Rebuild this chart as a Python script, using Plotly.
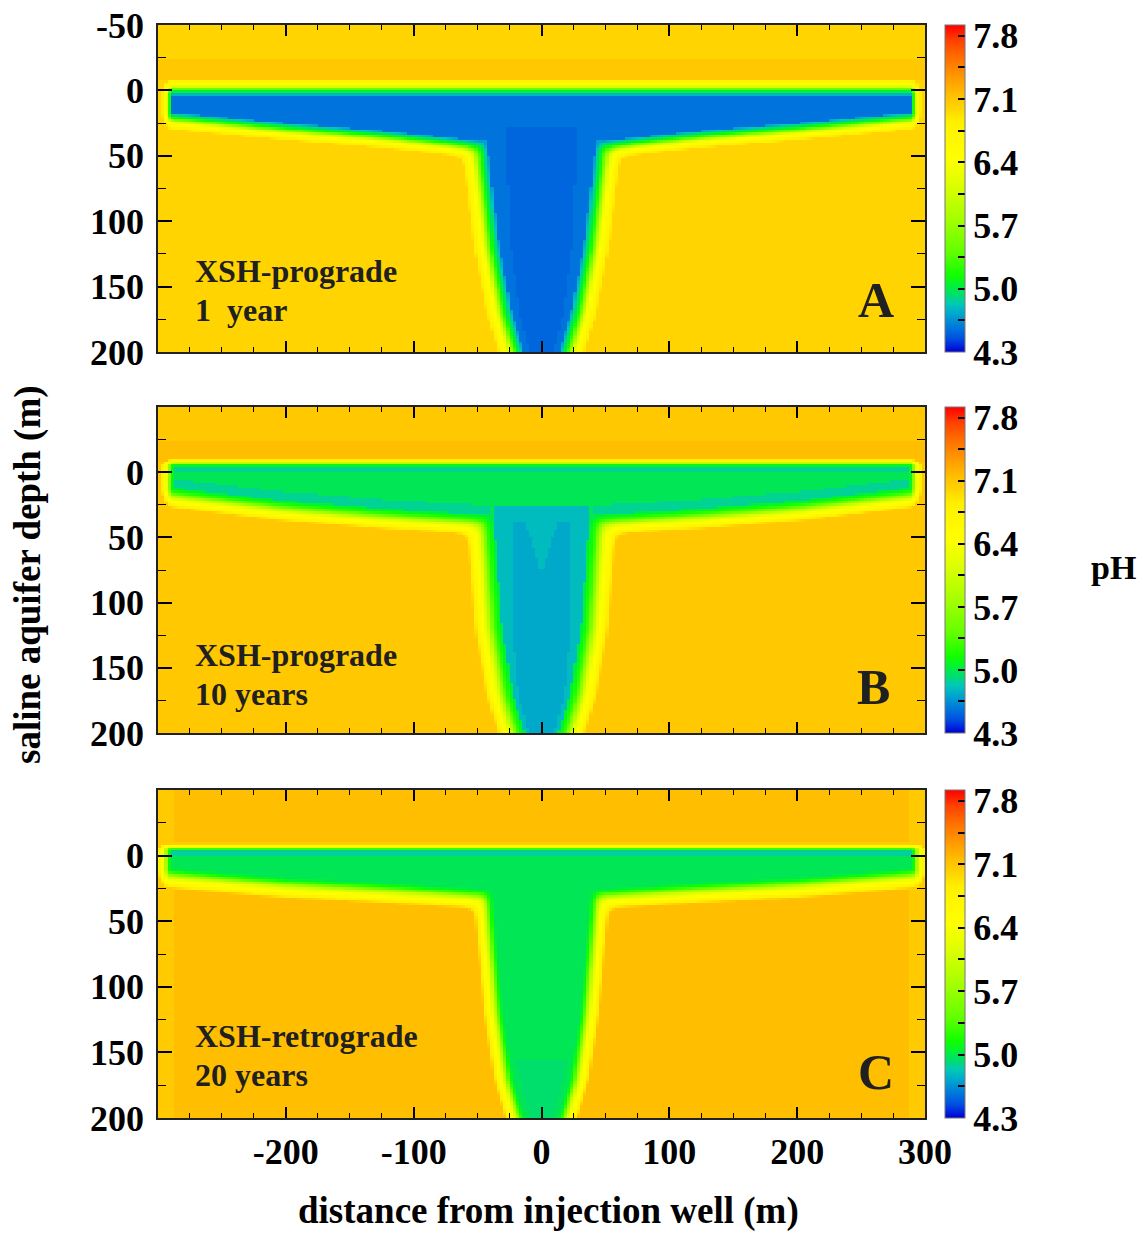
import numpy as np
import plotly.graph_objects as go

# ---------------- data ----------------
# model grid (cell centres, m)
X_CELLS = np.arange(-298.75, 300.0, 2.5)
D_CELLS = np.arange(-49.0, 200.0, 2.0)

X_TICKS = [-200, -100, 0, 100, 200, 300]
X_TICKTEXT = ["-200", "-100", "0", "100", "200", "300"]
Y_TICKS_A = [-50, 0, 50, 100, 150, 200]
Y_TICKTEXT_A = ["-50", "0", "50", "100", "150", "200"]
Y_TICKS_BC = [0, 50, 100, 150, 200]
Y_TICKTEXT_BC = ["0", "50", "100", "150", "200"]

PH_MIN, PH_MAX = 4.3, 7.92
PH_TICKS = [4.3, 4.65, 5.0, 5.35, 5.7, 6.05, 6.4, 6.75, 7.1, 7.45, 7.8]
PH_TICKTEXT = ["4.3", "", "5.0", "", "5.7", "", "6.4", "", "7.1", "", "7.8"]

# colour bar stops (pH, colour)
CBAR_PH = [4.30, 4.36, 4.45, 4.55, 4.70, 4.83, 4.93, 5.02, 5.15, 5.40,
           5.75, 6.15, 6.45, 6.85, 7.00, 7.15, 7.35, 7.55, 7.75, 7.92]
CBAR_COL = ["#0000c8", "#0020e0", "#0050e0", "#0070dd", "#00a0d0", "#00c8b8",
            "#00dd70", "#00ee40", "#10ff00", "#60ff00", "#a0ff00", "#ddff00",
            "#ffff00", "#fff000", "#ffd400", "#ffbe00", "#ff9800", "#ff7000",
            "#ff4000", "#ff0000"]

# plume geometry nodes
ARM_X = [0, 56, 124, 202, 289]          # |x| nodes for arm bottom
STEM_D = [30, 56, 120, 171, 200]        # depth nodes for stem half width

# panel A : XSH-prograde, 1 year
A_TOP, A_TIP = 3.5, 289
A_ARM_BOT = [40, 38, 31, 25, 17]
A_STEM_HW = [42, 41, 33, 23, 14]
A_CORE_HW = [27, 27, 24, 17, 10]
A_EDGE_D = [0, 1.2, 2.5, 4.0, 5.5, 7.0, 9.0, 11.0, 13.0]
A_EDGE_PH = [4.70, 4.85, 5.0, 5.2, 5.6, 6.1, 6.5, 6.7, 6.95]
A_PH_ARM, A_PH_CORE = 4.56, 4.52
A_BG, A_BAND = 7.0, 7.08

# panel B : XSH-prograde, 10 years
B_TOP, B_TIP = -4.5, 288
B_ARM_BOT = [34, 32, 28, 22, 12]
B_STEM_HW = [38, 36, 31, 22, 13]
B_CORE_HW = [24, 23, 23, 18, 10]
B_NOTCH_D, B_NOTCH_HW = [38, 77], [13, 0]
B_EDGE_D = [0, 2, 4, 6, 8.5, 11, 13.5, 15.5]
B_EDGE_PH = [5.0, 5.12, 5.3, 5.7, 6.2, 6.5, 6.75, 7.05]
B_PH_ARM, B_PH_BAND, B_PH_STEM, B_PH_CORE = 4.98, 4.88, 4.79, 4.73
B_BG, B_BAND = 7.08, 7.14

# panel C : XSH-retrograde, 20 years
C_TOP, C_TIP = -4.0, 290
C_ARM_BOT = [27, 25, 21, 17, 10]
C_STEM_HW = [38, 36, 30, 22, 13]
C_CORE_D, C_CORE_HW = [155, 200], [20, 10]
C_EDGE_D = [0, 2, 4, 6, 8.5, 11, 13.5, 15.5]
C_EDGE_PH = [5.0, 5.12, 5.4, 5.9, 6.3, 6.55, 6.8, 7.12]
C_PH_ARM, C_PH_BAND, C_PH_CORE = 4.98, 4.87, 4.94
C_BG, C_EDGE_BG = 7.15, 7.07

PANEL_TITLES = [("XSH-prograde", "1  year"), ("XSH-prograde", "10 years"),
                ("XSH-retrograde", "20 years")]
PANEL_LETTERS = ["A", "B", "C"]

# ---------------- field construction ----------------
XX, DD = np.meshgrid(X_CELLS, D_CELLS)
AX = np.abs(XX)


def plume(top, tip, arm_bot, stem_hw, sx, tip_sx, top_sv):
    ab = np.interp(AX, ARM_X, arm_bot)
    shw = np.interp(DD, STEM_D, stem_hw)
    dv = np.maximum(np.maximum((top - DD) * top_sv, DD - ab), 0)
    dh = np.maximum(AX - tip, 0) * tip_sx
    d_arm = np.hypot(dv, dh)
    d_stem = np.where(DD >= top, np.maximum(AX - shw, 0) * sx, 1e3)
    k = 3.0
    dist = -k * np.log(np.exp(-d_arm / k) + np.exp(-d_stem / k))
    dist = np.where(DD < top, d_arm, np.maximum(dist, 0))
    return d_arm == 0, d_stem == 0, dist, ab


def outside(dist, edge_d, edge_ph, bg):
    ph = np.interp(dist, edge_d, edge_ph)
    return np.where(dist >= edge_d[-1], bg, ph)


# A
in_arm, in_stem, dist, ab = plume(A_TOP, A_TIP, A_ARM_BOT, A_STEM_HW, 0.65, 1.7, 1.1)
bgA = np.where((DD > -25) & (DD < -7), A_BAND, A_BG)
zA = outside(dist, A_EDGE_D, A_EDGE_PH, bgA)
inside = in_arm | in_stem
zA = np.where(inside, A_PH_ARM, zA)
core = in_stem & (AX < np.interp(DD, STEM_D, A_CORE_HW)) & (DD > 28)
zA = np.where(core, A_PH_CORE, zA)

# B
in_arm, in_stem, dist, ab = plume(B_TOP, B_TIP, B_ARM_BOT, B_STEM_HW, 0.72, 1.7, 3.0)
bgB = np.where((DD > -25) & (DD < -8), B_BAND, B_BG)
zB = outside(dist, B_EDGE_D, B_EDGE_PH, bgB)
inside = in_arm | in_stem
zB = np.where(inside, B_PH_ARM, zB)
zB = np.where(in_arm & (DD < B_TOP + 4), B_PH_BAND, zB)
zB = np.where(in_arm & (DD > ab - 7) & (AX > 40), B_PH_BAND, zB)
zB = np.where(in_stem & (DD >= 26), B_PH_STEM, zB)
notch = AX < np.interp(DD, B_NOTCH_D, B_NOTCH_HW)
coreB = in_stem & (AX < np.interp(DD, STEM_D, B_CORE_HW)) & (DD > 38) & ~notch
zB = np.where(coreB, B_PH_CORE, zB)

# C
in_arm, in_stem, dist, ab = plume(C_TOP, C_TIP, C_ARM_BOT, C_STEM_HW, 1.0, 1.5, 3.0)
bgC = np.where(AX > 288, C_EDGE_BG, C_BG)
zC = outside(dist, C_EDGE_D, C_EDGE_PH, bgC)
inside = in_arm | in_stem
zC = np.where(inside, C_PH_ARM, zC)
zC = np.where(in_arm & (DD < C_TOP + 4), C_PH_BAND, zC)
coreC = in_stem & (DD > C_CORE_D[0]) & (AX < np.interp(DD, C_CORE_D, C_CORE_HW))
zC = np.where(coreC, C_PH_CORE, zC)

# ---------------- figure ----------------
W, H = 1147, 1233
colorscale = [[(p - PH_MIN) / (PH_MAX - PH_MIN), c] for p, c in zip(CBAR_PH, CBAR_COL)]
FONT = "Liberation Serif"
tickfont = dict(family=FONT, size=36, color="black", weight="bold")

x_dom = [158 / W, 925 / W]
panel_px = [(25, 352), (407, 733), (790, 1118)]

fig = go.Figure()
for i, z in enumerate([zA, zB, zC]):
    top, bot = panel_px[i]
    cy = 1 - (top + bot) / 2 / H
    fig.add_trace(go.Heatmap(
        x=X_CELLS, y=D_CELLS, z=z, zmin=PH_MIN, zmax=PH_MAX, zsmooth=False,
        colorscale=colorscale, xaxis=f"x{i + 1}", yaxis=f"y{i + 1}",
        hoverinfo="skip",
        colorbar=dict(x=945 / W, xanchor="left", xpad=0, y=cy, yanchor="middle",
                      ypad=0, len=bot - top, lenmode="pixels", thickness=20,
                      outlinewidth=1, outlinecolor="#777777",
                      tickmode="array", tickvals=PH_TICKS, ticktext=PH_TICKTEXT,
                      ticks="inside", ticklen=7, tickcolor="black", tickwidth=1.5,
                      tickfont=tickfont),
    ))
    xa = dict(domain=x_dom, range=[-300, 300], anchor=f"y{i + 1}",
              tickmode="array", tickvals=X_TICKS, ticktext=X_TICKTEXT,
              showticklabels=(i == 2),
              ticks="inside", ticklen=11, tickwidth=1.5, tickcolor="black",
              minor=dict(dtick=25, tick0=0, ticks="inside", ticklen=5,
                         tickwidth=1.2, tickcolor="black"),
              mirror="allticks", showline=True, linecolor="#222222", linewidth=1.5,
              showgrid=False, zeroline=False, tickfont=tickfont,
              ticklabelstandoff=1, automargin=False)
    ya = dict(domain=[1 - bot / H, 1 - top / H], range=[200, -50],
              anchor=f"x{i + 1}", tickmode="array",
              tickvals=Y_TICKS_A if i == 0 else Y_TICKS_BC,
              ticktext=Y_TICKTEXT_A if i == 0 else Y_TICKTEXT_BC,
              ticks="inside", ticklen=14, tickwidth=1.5, tickcolor="black",
              minor=dict(dtick=25, tick0=0, ticks="inside", ticklen=8,
                         tickwidth=1.2, tickcolor="black"),
              mirror="allticks", showline=True, linecolor="#222222", linewidth=1.5,
              showgrid=False, zeroline=False, tickfont=tickfont,
              ticklabelstandoff=5, automargin=False)
    sfx = "" if i == 0 else str(i + 1)
    fig.layout["xaxis" + sfx] = xa
    fig.layout["yaxis" + sfx] = ya

annots = []
title_y = [(271, 310), (655, 694), (1036, 1075)]
letter_pos = [(876, 300), (873, 687), (876, 1072)]
for i in range(3):
    for txt, yy in zip(PANEL_TITLES[i], title_y[i]):
        annots.append(dict(text=txt, x=193 / W, y=1 - yy / H, xref="paper", yref="paper",
                           xanchor="left", yanchor="middle", showarrow=False,
                           font=dict(family=FONT, size=32, color="#202020", weight="bold")))
    lx, ly = letter_pos[i]
    annots.append(dict(text=PANEL_LETTERS[i], x=lx / W, y=1 - ly / H, xref="paper",
                       yref="paper", xanchor="center", yanchor="middle", showarrow=False,
                       font=dict(family=FONT, size=50, color="#202020", weight="bold")))
annots.append(dict(text="pH", x=1113 / W, y=1 - 567 / H, xref="paper", yref="paper",
                   xanchor="center", yanchor="middle", showarrow=False,
                   font=dict(family=FONT, size=34, color="black", weight="bold")))
annots.append(dict(text="distance from injection well (m)", x=548 / W, y=1 - 1211 / H,
                   xref="paper", yref="paper", xanchor="center", yanchor="middle",
                   showarrow=False,
                   font=dict(family=FONT, size=37, color="black", weight="bold")))
annots.append(dict(text="saline aquifer depth (m)", x=28 / W, y=1 - 575 / H,
                   xref="paper", yref="paper", xanchor="center", yanchor="middle",
                   textangle=-90, showarrow=False,
                   font=dict(family=FONT, size=37, color="black", weight="bold")))

fig.update_layout(width=W, height=H,
                  margin=dict(l=0, r=0, t=0, b=0, autoexpand=False),
                  paper_bgcolor="white", plot_bgcolor="white",
                  annotations=annots, showlegend=False)

fig.write_html("out.html")
